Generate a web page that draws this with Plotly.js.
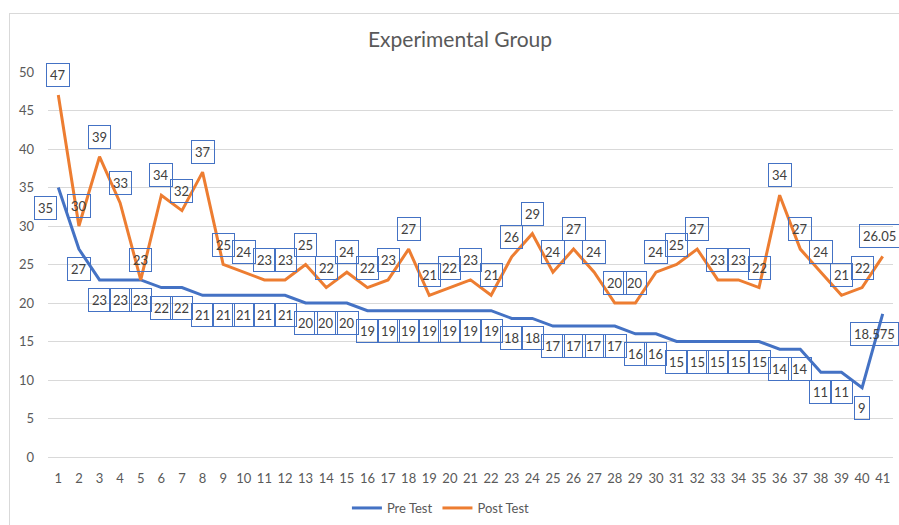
<!DOCTYPE html>
<html>
<head>
<meta charset="utf-8">
<script src="https://cdn.plot.ly/plotly-3.0.1.min.js"></script>
<style>
html,body{margin:0;padding:0;background:#fff;overflow:hidden;}
#chart{width:899px;height:525px;position:absolute;left:0;top:0;}
#frame{position:absolute;left:9px;top:13px;width:900px;height:530px;border:1px solid #d9d9d9;pointer-events:none;}
</style>
</head>
<body>
<div id="chart"></div>
<div id="frame"></div>
<script>
const categories = [1,2,3,4,5,6,7,8,9,10,11,12,13,14,15,16,17,18,19,20,21,22,23,24,25,26,27,28,29,30,31,32,33,34,35,36,37,38,39,40,41];
const preTest = [35,27,23,23,23,22,22,21,21,21,21,21,20,20,20,19,19,19,19,19,19,19,18,18,17,17,17,17,16,16,15,15,15,15,15,14,14,11,11,9,18.575];
const postTest = [47,30,39,33,23,34,32,37,25,24,23,23,25,22,24,22,23,27,21,22,23,21,26,29,24,27,24,20,20,24,25,27,23,23,22,34,27,24,21,22,26.05];
const seriesNames = ["Pre Test","Post Test"];
const chartTitle = "Experimental Group";

const BLUE = "#4472C4", ORANGE = "#ED7D31";
const FONT = "Lato, 'Open Sans', sans-serif";

const traces = [
  {x: categories, y: preTest, name: seriesNames[0], type: "scatter", mode: "lines",
   line: {color: BLUE, width: 3}},
  {x: categories, y: postTest, name: seriesNames[1], type: "scatter", mode: "lines",
   line: {color: ORANGE, width: 3}}
];

const annotations = [];
function addLabels(vals, shift, xshifts) {
  vals.forEach((v, i) => {
    annotations.push({
      x: categories[i], y: v, xref: "x", yref: "y",
      text: String(v), showarrow: false, yshift: shift, xshift: xshifts[i] || 0,
      font: {family: FONT, size: 13, color: "#404040"},
      bordercolor: BLUE, borderwidth: 1, borderpad: 3
    });
  });
}
const n = categories.length;
addLabels(preTest, -20, {0: -13, [n - 1]: -8});
addLabels(postTest, 20, {[n - 1]: -3});

const layout = {
  width: 899, height: 525,
  margin: {l: 48, r: 6, t: 72, b: 68, autoexpand: false},
  paper_bgcolor: "#fff", plot_bgcolor: "#fff",
  font: {family: FONT, color: "#595959", size: 12},
  title: {text: chartTitle, x: 0.4876, xref: "paper", y: 1 - 40 / 525, yref: "container",
          xanchor: "center", yanchor: "middle",
          font: {family: FONT, size: 21, color: "#595959"}},
  xaxis: {type: "linear", range: [0.5, 41.5], tickmode: "array", tickvals: categories,
          ticktext: categories.map(String), showgrid: false, zeroline: false,
          showline: false, ticks: "", fixedrange: true, ticklabelstandoff: 12,
          automargin: false,
          tickfont: {family: FONT, size: 13, color: "#595959"}},
  yaxis: {range: [0, 50], dtick: 5, tick0: 0, showgrid: true, gridcolor: "#d9d9d9",
          gridwidth: 1, zeroline: true, zerolinecolor: "#d9d9d9", zerolinewidth: 1,
          showline: false, ticks: "", ticklabelstandoff: 13, automargin: false,
          tickfont: {family: FONT, size: 13, color: "#595959"}},
  showlegend: true,
  legend: {orientation: "h", x: 0.465, xanchor: "center", y: (457 - 508) / 385, yanchor: "middle",
           font: {family: FONT, size: 13, color: "#595959"}, itemwidth: 30},
  annotations: annotations
};

Plotly.newPlot("chart", traces, layout, {staticPlot: true, displayModeBar: false});
</script>
</body>
</html>
